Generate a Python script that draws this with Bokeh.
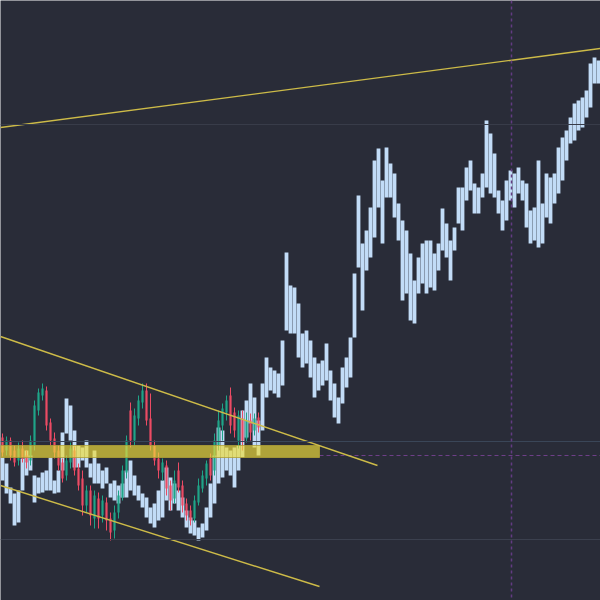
from bokeh.plotting import figure
from bokeh.models import Range1d, Span, ColumnDataSource
from bokeh.embed import file_html
from bokeh.resources import INLINE

# Light-blue price bars (high / low per bar index)
bar_high = [143, 137, 113, 107, 110, 142, 150, 145, 125, 123,
            128, 130, 143, 120, 130, 168, 202, 195, 170, 155,
            153, 160, 137, 150, 137, 130, 133, 117, 120, 115,
            117, 130, 140, 125, 115, 107, 103, 93, 97, 110,
            120, 133, 123, 117, 110, 103, 90, 83, 80, 73,
            77, 93, 117, 145, 173, 170, 153, 150, 153, 155,
            190, 200, 217, 203, 180, 217, 243, 233, 230, 227,
            260, 348, 315, 313, 297, 267, 270, 260, 243, 237,
            240, 257, 230, 217, 203, 233, 243, 263, 327, 405,
            357, 370, 393, 440, 452, 420, 453, 437, 427, 397,
            380, 370, 347, 320, 343, 357, 360, 360, 347, 357,
            392, 377, 360, 373, 413, 413, 433, 440, 417, 413,
            427, 480, 467, 447, 410, 400, 420, 430, 427, 433,
            420, 417, 390, 393, 440, 397, 427, 423, 427, 453,
            463, 470, 483, 497, 500, 503, 510, 537, 543, 540]
bar_low = [120, 107, 97, 75, 78, 110, 125, 130, 98, 107,
           108, 110, 110, 107, 108, 130, 167, 160, 133, 133,
           140, 133, 123, 117, 117, 112, 117, 103, 100, 97,
           103, 103, 110, 105, 100, 93, 83, 77, 73, 80,
           83, 100, 90, 97, 90, 83, 73, 67, 65, 60,
           63, 70, 83, 97, 117, 123, 130, 125, 113, 130,
           143, 163, 177, 153, 145, 170, 203, 210, 207, 203,
           215, 270, 267, 267, 243, 233, 237, 223, 203, 210,
           215, 220, 200, 183, 177, 197, 213, 223, 263, 333,
           290, 330, 343, 363, 393, 357, 403, 403, 383, 360,
           300, 307, 280, 277, 307, 317, 307, 313, 310, 330,
           350, 343, 320, 350, 377, 370, 400, 410, 387, 387,
           403, 413, 407, 403, 387, 370, 380, 400, 393, 407,
           400, 373, 357, 360, 353, 357, 383, 377, 397, 407,
           420, 440, 457, 460, 470, 473, 483, 493, 517, 517]

# Candles of the earlier section
c_open = [163, 150, 160, 150, 140, 152, 145, 140, 155, 190,
          205, 210, 178, 162, 150, 138, 125, 138, 150, 132,
          122, 95, 110, 82, 102, 85, 98, 82, 70, 88,
          103, 128, 190, 160, 182, 198, 210, 182, 155, 142,
          128, 135, 115, 102, 130, 115, 97, 90, 82, 98,
          112, 122, 142, 130, 155, 175, 188, 205, 188, 160,
          182, 162, 180, 170, 183]
c_close = [148, 160, 145, 138, 152, 142, 138, 160, 195, 208,
           212, 175, 160, 148, 135, 122, 140, 152, 130, 115,
           95, 110, 85, 105, 82, 100, 80, 68, 88, 105,
           130, 160, 160, 185, 200, 210, 180, 155, 140, 130,
           138, 112, 100, 120, 113, 95, 85, 80, 100, 115,
           125, 137, 125, 160, 180, 192, 200, 175, 170, 185,
           160, 180, 168, 182, 173]
c_high = [167, 164, 163, 155, 158, 160, 150, 165, 200, 212,
          217, 214, 182, 168, 155, 142, 145, 158, 154, 137,
          130, 115, 115, 110, 108, 105, 103, 88, 95, 110,
          135, 165, 198, 192, 205, 217, 217, 207, 160, 148,
          142, 140, 120, 130, 138, 120, 102, 95, 105, 122,
          130, 140, 147, 167, 190, 197, 205, 213, 193, 190,
          190, 188, 187, 187, 188]
c_low = [144, 145, 140, 134, 135, 138, 132, 135, 150, 185,
         200, 170, 155, 142, 130, 118, 120, 132, 125, 110,
         85, 88, 75, 72, 72, 78, 70, 60, 62, 82,
         100, 122, 153, 155, 175, 192, 175, 150, 135, 122,
         120, 105, 90, 97, 108, 88, 80, 75, 78, 95,
         108, 115, 120, 125, 150, 160, 180, 167, 163, 152,
         150, 158, 160, 165, 168]

# Drawing objects: trend lines, zone, levels
trend_x0 = [-0.5, -0.5, -0.5]
trend_y0 = [473, 264, 115]
trend_x1 = [149.5, 93.75, 79.25]
trend_y1 = [552, 135, 14]
zone_left, zone_right, zone_bottom, zone_top = -0.5, 79.25, 143, 155
levels = [476, 159, 61]
marker_bar = 127.25
marker_level = 145

bg = "#292c38"
p = figure(width=600, height=600, output_backend="svg", toolbar_location=None,
           x_range=Range1d(-0.5, 149.5), y_range=Range1d(0, 600),
           background_fill_color=bg, border_fill_color=bg,
           min_border=0, outline_line_color=None)
p.axis.visible = False
p.grid.visible = False

level_colors = ["#383c49", "#3a4658", "#3b404e"]
for lv, col in zip(levels, level_colors):
    p.add_layout(Span(location=lv, dimension="width", line_color=col, line_width=1))

p.add_layout(Span(location=marker_bar, dimension="height", line_color="#633b82",
                  line_width=1.5, line_dash="3 3"))
p.segment(x0=[zone_right], y0=[marker_level], x1=[149.5], y1=[marker_level],
          line_color="#6e3f88", line_width=1.2, line_dash="4 3")

idx = list(range(len(bar_high)))
p.vbar(x=idx, top=bar_high, bottom=bar_low, width=0.95,
       fill_color="#c2dcf7", line_color=None)

cidx = list(range(len(c_open)))
up = [c >= o for o, c in zip(c_open, c_close)]
colors = ["#1fa488" if u else "#ec4b64" for u in up]
src = ColumnDataSource(dict(x=cidx, o=c_open, c=c_close, h=c_high, l=c_low,
                            top=[max(a, b) for a, b in zip(c_open, c_close)],
                            bot=[min(a, b) for a, b in zip(c_open, c_close)],
                            col=colors))
p.segment(x0="x", y0="l", x1="x", y1="h", line_color="col", line_width=1, source=src)
p.vbar(x="x", top="top", bottom="bot", width=0.55, fill_color="col",
       line_color=None, source=src)

p.quad(left=[zone_left], right=[zone_right], bottom=[zone_bottom], top=[zone_top],
       fill_color="#efdb3a", fill_alpha=0.68, line_color="#b0a036", line_alpha=0.8,
       line_width=1)

p.segment(x0=trend_x0, y0=trend_y0, x1=trend_x1, y1=trend_y1,
          line_color="#cdbb48", line_width=1.4)

open("out.html", "w").write(file_html(p, INLINE))
